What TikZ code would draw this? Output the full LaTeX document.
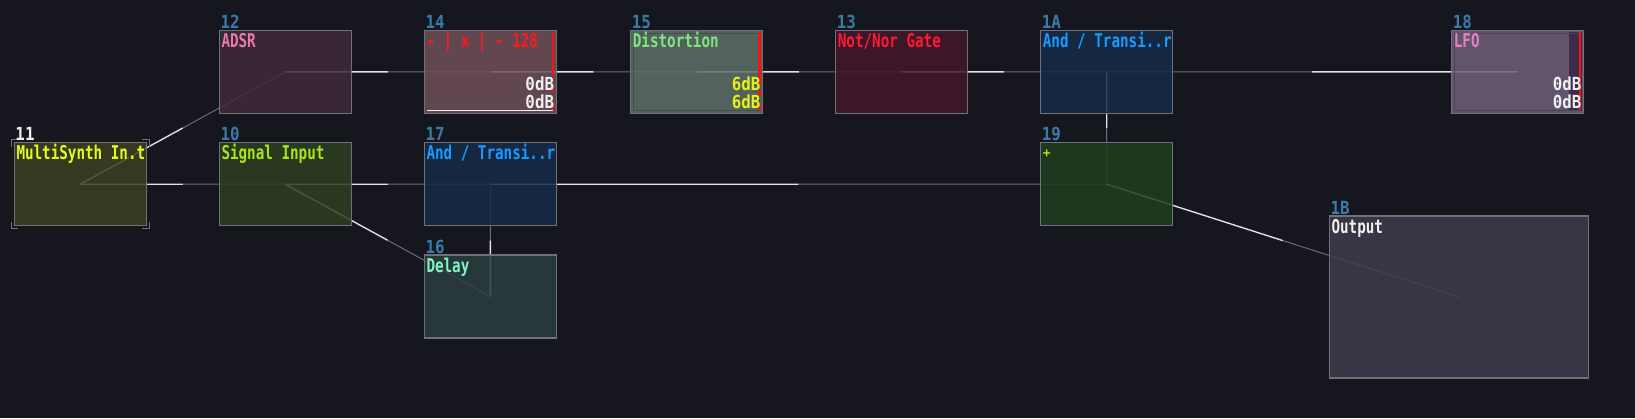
\documentclass[tikz,border=0pt]{standalone}
\usepackage{fontspec}
\usepackage{graphicx}
\setmonofont{DejaVu Sans Mono}
\usetikzlibrary{calc}
\pgfdeclarelayer{bg}
\pgfdeclarelayer{wires}
\pgfsetlayers{bg,wires,main}
\definecolor{bgc}{HTML}{16161F}
\definecolor{boxline}{HTML}{70707A}
\definecolor{numc}{HTML}{3A7CA8}
\definecolor{wirehic}{HTML}{E0E0E8}
\definecolor{wireloc}{HTML}{6C6C76}
\definecolor{f11}{HTML}{3C3E20}\definecolor{t11}{HTML}{DFFF1A}
\definecolor{f12}{HTML}{402B3A}\definecolor{t12}{HTML}{E67BA5}
\definecolor{f10}{HTML}{2D3F1F}\definecolor{t10}{HTML}{A8E61A}
\definecolor{f14}{HTML}{70505A}\definecolor{t14}{HTML}{FF1A1A}
\definecolor{f17}{HTML}{142C49}\definecolor{t17}{HTML}{1A99FF}
\definecolor{f16}{HTML}{2B3E41}\definecolor{t16}{HTML}{7FF5C4}
\definecolor{f15}{HTML}{5F706A}\definecolor{t15}{HTML}{7FE57F}
\definecolor{f13}{HTML}{43182A}\definecolor{t13}{HTML}{FF1A33}
\definecolor{f19}{HTML}{1F3E1F}\definecolor{t19}{HTML}{B0E010}
\definecolor{f18}{HTML}{6F6079}\definecolor{t18}{HTML}{E67FC8}
\definecolor{s18}{HTML}{3C2B49}
\definecolor{f1B}{HTML}{3E3C4B}\definecolor{t1B}{HTML}{F0F0F0}
\definecolor{dbw}{HTML}{F0F0F0}\definecolor{dby}{HTML}{E6F01A}
\definecolor{redbar}{HTML}{FF1010}
\newcommand{\sqz}[1]{\scalebox{0.75}[1]{#1}}
\newcommand{\sqn}[1]{\scalebox{0.88}[1]{#1}}
\newcommand{\wire}[2]{%
  \draw[wirehi] (#1.center) -- ($(#1.center)!0.5!(#2.center)$);
  \draw[wirelo] ($(#1.center)!0.5!(#2.center)$) -- (#2.center);}
\tikzset{
  box/.style={draw=boxline, line width=1.5pt, minimum width=132pt, minimum height=83pt,
    anchor=north west, inner sep=0pt, outer sep=0pt, fill opacity=0.85},
  ttl/.style={anchor=base west, inner sep=0pt, font=\ttfamily\bfseries\fontsize{19}{19}\selectfont},
  num/.style={anchor=base west, inner sep=0pt, font=\ttfamily\bfseries\fontsize{18}{18}\selectfont, text=numc},
  dbtxt/.style={anchor=base east, inner sep=0pt, font=\ttfamily\bfseries\fontsize{18}{18}\selectfont},
  wirehi/.style={draw=wirehic, line width=1.4pt},
  wirelo/.style={draw=wireloc, line width=1pt},
  brk/.style={draw=boxline, line width=1.5pt},
  rbar/.style={draw=redbar, line width=2.2pt},
}
\begin{document}
\begin{tikzpicture}[x=1pt,y=-1pt]
\begin{pgfonlayer}{bg}
\fill[bgc] (0,0) rectangle (1635,418);
\end{pgfonlayer}
\useasboundingbox (0,0) rectangle (1635,418);
% boxes
\node[box, fill=f11] (n11) at (14.3,142.7) {};
\node[box, fill=f12] (n12) at (219.3,30.3) {};
\node[box, fill=f10] (n10) at (219.3,142.7) {};
\node[box, fill=f14] (n14) at (424.3,30.3) {};
\node[box, fill=f17] (n17) at (424.3,142.7) {};
\node[box, fill=f16] (n16) at (424.3,255) {};
\node[box, fill=f15] (n15) at (630.7,30.3) {};
\node[box, fill=f13] (n13) at (835.7,30.3) {};
\node[box, fill=f17] (n1A) at (1040.7,30.3) {};
\node[box, fill=f19] (n19) at (1040.7,142.7) {};
\node[box, fill=f18] (n18) at (1451.7,30.3) {};
\node[box, fill=f1B, minimum width=259.4pt, minimum height=162pt] (n1B) at (1329.3,216) {};
% wires
\begin{pgfonlayer}{wires}
\wire{n11}{n12}
\wire{n11}{n10}
\wire{n12}{n14}
\wire{n14}{n15}
\wire{n15}{n13}
\wire{n13}{n1A}
\wire{n18}{n1A}
\wire{n1A}{n19}
\wire{n10}{n17}
\wire{n10}{n16}
\wire{n16}{n17}
\wire{n17}{n19}
\wire{n19}{n1B}
\end{pgfonlayer}
% corner brackets of 11
\draw[brk] ($(n11.north west)+(-3,4)$) -- ($(n11.north west)+(-3,-3)$) -- ($(n11.north west)+(4,-3)$);
\draw[brk] ($(n11.north east)+(-4,-3)$) -- ($(n11.north east)+(3,-3)$) -- ($(n11.north east)+(3,4)$);
\draw[brk] ($(n11.south west)+(-3,-4)$) -- ($(n11.south west)+(-3,3)$) -- ($(n11.south west)+(4,3)$);
\draw[brk] ($(n11.south east)+(-4,3)$) -- ($(n11.south east)+(3,3)$) -- ($(n11.south east)+(3,-4)$);
% LFO strip and inner frames
\fill[s18] ($(n18.north east)+(-15,2)$) rectangle ($(n18.south east)+(-1.5,-2)$);
\draw[draw=f15!70!black, line width=1pt] ($(n15.north west)+(3,3)$) rectangle ($(n15.south east)+(-3,-3)$);
\draw[draw=f18!70!black, line width=1pt] ($(n18.north west)+(3,3)$) rectangle ($(n18.south east)+(-3,-3)$);
% meters
\draw[rbar] ($(n14.north east)+(-3.7,2)$) -- ($(n14.north east)+(-3.7,46)$);
\draw[rbar] ($(n14.north east)+(-3.7,58)$) -- ($(n14.north east)+(-3.7,62)$);
\draw[rbar] ($(n14.north east)+(-3.7,74)$) -- ($(n14.north east)+(-3.7,80)$);
\draw[draw=dbw, line width=1.5pt] ($(n14.north west)+(2.5,80)$) -- ($(n14.north east)+(-3,80)$);
\draw[rbar] ($(n15.north east)+(-3.3,2)$) -- ($(n15.north east)+(-3.3,56)$);
\draw[rbar] ($(n15.north east)+(-3.3,60)$) -- ($(n15.north east)+(-3.3,66)$);
\draw[rbar] ($(n15.north east)+(-3.3,74)$) -- ($(n15.north east)+(-3.3,80)$);
\draw[rbar] ($(n18.north east)+(-3.7,2)$) -- ($(n18.north east)+(-3.7,80)$);
% number labels
\node[num, text=dbw] (l11) at ($(n11.north west)+(1,-2)$) {\sqn{11}};
\node[num] (l12) at ($(n12.north west)+(1,-2)$) {\sqn{12}};
\node[num] (l10) at ($(n10.north west)+(1,-2)$) {\sqn{10}};
\node[num] (l14) at ($(n14.north west)+(1,-2)$) {\sqn{14}};
\node[num] (l17) at ($(n17.north west)+(1,-2)$) {\sqn{17}};
\node[num] (l16) at ($(n16.north west)+(1,-2)$) {\sqn{16}};
\node[num] (l15) at ($(n15.north west)+(1,-2)$) {\sqn{15}};
\node[num] (l13) at ($(n13.north west)+(1,-2)$) {\sqn{13}};
\node[num] (l1A) at ($(n1A.north west)+(1,-2)$) {\sqn{1A}};
\node[num] (l19) at ($(n19.north west)+(1,-2)$) {\sqn{19}};
\node[num] (l18) at ($(n18.north west)+(1,-2)$) {\sqn{18}};
\node[num] (l1B) at ($(n1B.north west)+(1,-2)$) {\sqn{1B}};
% titles
\node[ttl, text=t11] (h11) at ($(n11.north west)+(2,17)$) {\sqz{MultiSynth In.t}};
\node[ttl, text=t12] (h12) at ($(n12.north west)+(2,17)$) {\sqz{ADSR}};
\node[ttl, text=t10] (h10) at ($(n10.north west)+(2,17)$) {\sqz{Signal Input}};
\node[ttl, text=t14] (h14) at ($(n14.north west)+(2,17)$) {\sqz{- | x | - 128}};
\node[ttl, text=t17] (h17) at ($(n17.north west)+(2,17)$) {\sqz{And / Transi..r}};
\node[ttl, text=t16] (h16) at ($(n16.north west)+(2,17)$) {\sqz{Delay}};
\node[ttl, text=t15] (h15) at ($(n15.north west)+(2,17)$) {\sqz{Distortion}};
\node[ttl, text=t13] (h13) at ($(n13.north west)+(2,17)$) {\sqz{Not/Nor Gate}};
\node[ttl, text=t17] (h1A) at ($(n1A.north west)+(2,17)$) {\sqz{And / Transi..r}};
\node[ttl, text=t18] (h18) at ($(n18.north west)+(2,17)$) {\sqz{LFO}};
\node[ttl, text=t1B] (h1B) at ($(n1B.north west)+(2,17)$) {\sqz{Output}};
\node[inner sep=0pt, text=t19, font=\ttfamily\bfseries\fontsize{13}{13}\selectfont] (h19) at ($(n19.north west)+(6,11.5)$) {+};
% dB readouts
\node[dbtxt, text=dbw] (d14a) at ($(n14.north east)+(-2,60.4)$) {\sqn{0dB}};
\node[dbtxt, text=dbw] (d14b) at ($(n14.north east)+(-2,78)$) {\sqn{0dB}};
\node[dbtxt, text=dby] (d15a) at ($(n15.north east)+(-2,60.4)$) {\sqn{6dB}};
\node[dbtxt, text=dby] (d15b) at ($(n15.north east)+(-2,78)$) {\sqn{6dB}};
\node[dbtxt, text=dbw] (d18a) at ($(n18.north east)+(-2,60.4)$) {\sqn{0dB}};
\node[dbtxt, text=dbw] (d18b) at ($(n18.north east)+(-2,78)$) {\sqn{0dB}};
\end{tikzpicture}
\end{document}
